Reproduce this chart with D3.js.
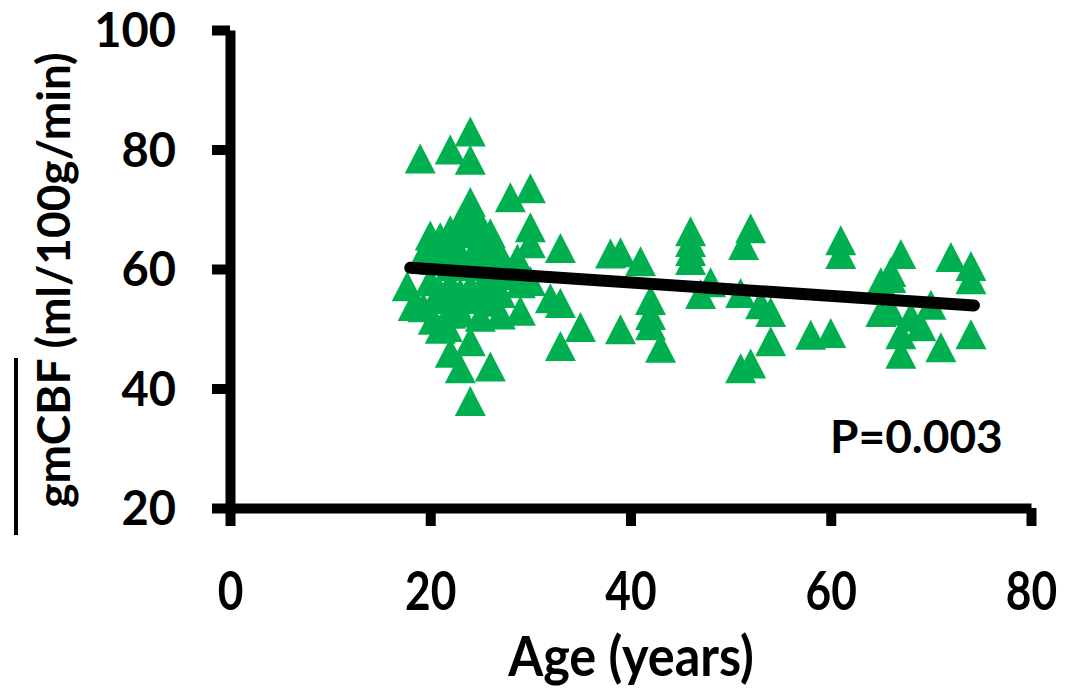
<!DOCTYPE html>
<html>
<head>
<meta charset="utf-8">
<script src="https://cdn.jsdelivr.net/npm/d3@7"></script>
<style>
  body { margin: 0; background: #fff; }
  text { font-family: Lato, "Open Sans", sans-serif; font-weight: bold; fill: #000; }
</style>
</head>
<body>
<svg id="chart" width="1071" height="695"></svg>
<script>
// Age (years) of each subject
const AGES = [
  19, 22, 24, 24, 28, 30, 24, 30, 30, 33,
  20, 21, 22, 23, 22.5, 23.5, 24, 25, 25, 26, 26.5, 24.5, 23, 21.5, 20.5, 19.5, 25.5, 27, 28.7, 22, 24, 26,
  17.7, 19.3, 18.3, 20, 21, 22, 23, 24, 25, 26, 27, 20.5, 22.5, 24.5, 26, 21, 22, 23, 20.3, 21.7, 22, 24, 23, 26, 24, 27, 29, 29, 28, 30, 25,
  32, 33, 35, 33, 39, 38, 39, 41, 42, 42, 42, 43,
  46, 46, 46, 46, 48, 47, 52, 51.3, 51, 53, 54, 54, 52, 51,
  58, 60, 61, 61, 67, 66, 65, 66, 65, 66, 67, 67, 69, 70, 71, 72, 74, 74, 74, 68
];
// grey matter CBF (ml/100g/min), same order
const CBF = [
  78.5, 80, 83, 78.3, 72, 73.5, 71.2, 67, 64.3, 63.5,
  65.6, 65.3, 66.5, 68, 64, 66, 68.5, 67.5, 65, 66, 64, 63, 62.5, 62.5, 61.5, 63, 61.5, 62, 61.7, 60.5, 60.5, 60,
  57.1, 53.6, 53.8, 58, 56, 57.5, 56, 57, 56, 57.5, 56, 55, 54.5, 55, 54.5, 50, 52.5, 52.7, 51.5, 50.3, 46, 47.9, 43.4, 43.7, 37.9, 52.4, 53, 57.6, 59, 58, 52,
  55.1, 54.3, 50.3, 47.1, 49.9, 62.6, 62.8, 61.3, 54.8, 52.3, 50.6, 46.8,
  66.3, 64.5, 63, 61.5, 57.8, 55.8, 66.8, 64, 56, 54.1, 52.8, 47.9, 44.2, 43.4,
  49, 49.3, 64.8, 62.5, 62.5, 59.5, 57.8, 58.5, 52.8, 53, 49.1, 45.8, 50.4, 54, 46.9, 62, 60.5, 58.3, 49.1, 52
];
// fitted regression line end points
const FIT_X = [18, 74.3];
const FIT_Y = [60.2, 53.9];

const X_TICKS = [0, 20, 40, 60, 80];
const Y_TICKS = [20, 40, 60, 80, 100];

const svg = d3.select('#chart');
const x = d3.scaleLinear().domain([0, 80]).range([230, 1031]);
const y = d3.scaleLinear().domain([20, 100]).range([508, 30]);

// triangle marker, centred on its bounding box
const triangle = (w, h) => `M0,${-h / 2}L${w / 2},${h / 2}L${-w / 2},${h / 2}Z`;

svg.append('g')
  .selectAll('path')
  .data(AGES.map((a, i) => [a, CBF[i]]))
  .enter()
  .append('path')
  .attr('d', triangle(31, 30))
  .attr('transform', d => `translate(${x(d[0])},${y(d[1])})`)
  .attr('fill', '#00b050');

// trend line
svg.append('line')
  .attr('x1', x(FIT_X[0])).attr('y1', y(FIT_Y[0]))
  .attr('x2', x(FIT_X[1])).attr('y2', y(FIT_Y[1]))
  .attr('stroke', '#000')
  .attr('stroke-width', 12)
  .attr('stroke-linecap', 'round');

// axes
const xAxis = svg.append('g')
  .attr('transform', `translate(0,${y(20)})`)
  .call(d3.axisBottom(x).tickValues(X_TICKS).tickSize(18).tickSizeOuter(0).tickPadding(46));
const yAxis = svg.append('g')
  .attr('transform', `translate(${x(0)},0)`)
  .call(d3.axisLeft(y).tickValues(Y_TICKS).tickSize(18).tickSizeOuter(0).tickPadding(36));

[xAxis, yAxis].forEach(g => {
  g.select('.domain').attr('stroke', '#000').attr('stroke-width', 10);
  g.selectAll('.tick line').attr('stroke', '#000').attr('stroke-width', 10);
  g.selectAll('.tick text').attr('font-family', 'Lato, sans-serif').attr('font-weight', 'bold').attr('fill', '#000');
});
yAxis.selectAll('.tick text').attr('font-size', 47).attr('dy', '0.36em');
// x labels are narrow in the original, squeeze them a bit
xAxis.selectAll('.tick text').attr('font-size', 54).attr('dy', '0.7em')
  .attr('transform', 'scale(0.82,1)');

// axis titles
svg.append('text')
  .attr('transform', 'translate(631,676) scale(0.9,1)')
  .attr('text-anchor', 'middle')
  .attr('font-size', 56)
  .text('Age (years)');

svg.append('text')
  .attr('transform', 'translate(70,280) rotate(-90)')
  .attr('text-anchor', 'middle')
  .attr('font-size', 46)
  .text('gmCBF (ml/100g/min)');

// overline on gmCBF
svg.append('line')
  .attr('x1', 16).attr('x2', 16)
  .attr('y1', 358).attr('y2', 535)
  .attr('stroke', '#000')
  .attr('stroke-width', 4);

svg.append('text')
  .attr('x', 830).attr('y', 453)
  .attr('font-size', 46)
  .text('P=0.003');
</script>
</body>
</html>
